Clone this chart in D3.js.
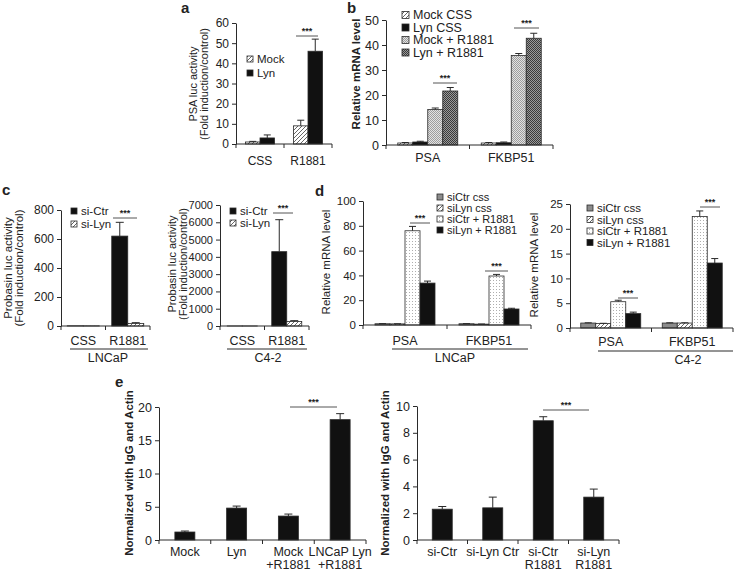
<!DOCTYPE html>
<html><head><meta charset="utf-8">
<script src="https://cdn.jsdelivr.net/npm/d3@7"></script>
<style>
body{margin:0;background:#fff}
text{font-family:"Liberation Sans",Arial,Helvetica,sans-serif;fill:#222}
</style>
</head><body>
<svg id="fig" width="736" height="572"></svg>
<script>
// ---------------- DATA ----------------
// Panel a
const aCategories = ["CSS", "R1881"];
const aSeries = ["Mock", "Lyn"];
const aValues = [[1.0, 9.0], [3.0, 46.0]];
const aErrors = [[0.3, 2.8], [1.5, 6.0]];
const aTicks = [0, 10, 20, 30, 40, 50, 60];

// Panel b
const bCategories = ["PSA", "FKBP51"];
const bSeries = ["Mock CSS", "Lyn CSS", "Mock + R1881", "Lyn + R1881"];
const bValues = [[0.8, 0.8], [1.2, 0.9], [14.2, 35.8], [21.6, 42.7]];
const bErrors = [[0.2, 0.2], [0.3, 0.3], [0.6, 0.8], [1.4, 2.0]];
const bTicks = [0, 10, 20, 30, 40, 50];

// Panel c (LNCaP and C4-2)
const cCategories = ["CSS", "R1881"];
const cSeries = ["si-Ctr", "si-Lyn"];
const cLeftValues = [[1, 620], [1, 18]];
const cLeftErrors = [[0, 95], [0, 5]];
const cLeftTicks = [0, 200, 400, 600, 800];
const cRightValues = [[1, 4300], [1, 260]];
const cRightErrors = [[0, 1850], [0, 50]];
const cRightTicks = [0, 1000, 2000, 3000, 4000, 5000, 6000, 7000];

// Panel d (LNCaP and C4-2)
const dCategories = ["PSA", "FKBP51"];
const dSeries = ["siCtr css", "siLyn css", "siCtr + R1881", "siLyn + R1881"];
const dLeftValues = [[1.0, 1.0], [0.9, 0.7], [76.0, 39.5], [33.8, 12.9]];
const dLeftErrors = [[0.1, 0.1], [0.1, 0.1], [3.5, 1.3], [1.6, 0.6]];
const dLeftTicks = [0, 20, 40, 60, 80, 100];
const dRightValues = [[1.0, 1.0], [0.9, 1.0], [5.3, 22.5], [2.9, 13.1]];
const dRightErrors = [[0.05, 0.05], [0.05, 0.05], [0.3, 1.1], [0.3, 0.9]];
const dRightTicks = [0, 5, 10, 15, 20, 25];

// Panel e
const eLeftCategories = ["Mock", "Lyn", "Mock\n+R1881", "LNCaP Lyn\n+R1881"];
const eLeftValues = [1.2, 4.8, 3.6, 18.1];
const eLeftErrors = [0.15, 0.3, 0.3, 0.9];
const eLeftTicks = [0, 5, 10, 15, 20];
const eRightCategories = ["si-Ctr", "si-Lyn Ctr", "si-Ctr\nR1881", "si-Lyn\nR1881"];
const eRightValues = [2.3, 2.4, 8.9, 3.2];
const eRightErrors = [0.2, 0.8, 0.3, 0.6];
const eRightTicks = [0, 2, 4, 6, 8, 10];

// ---------------- DRAWING ----------------
const svg = d3.select("#fig");
const defs = svg.append("defs");

function pat(id, w, h, bg, draw) {
  const p = defs.append("pattern").attr("id", id).attr("patternUnits", "userSpaceOnUse")
    .attr("width", w).attr("height", h);
  p.append("rect").attr("width", w).attr("height", h).attr("fill", bg);
  draw(p);
}
pat("hatch", 4, 4, "#fff", p => {
  p.append("path").attr("d", "M-1,5 L5,-1 M-1,1 L1,-1 M3,5 L5,3").attr("stroke", "#555").attr("stroke-width", 0.9);
});
pat("dots", 3, 3, "#fff", p => {
  p.append("rect").attr("x", 1).attr("y", 1).attr("width", 0.9).attr("height", 0.9).attr("fill", "#9a9a9a");
});
pat("checkLight", 2, 2, "#e2e2e2", p => {
  p.append("rect").attr("width", 1).attr("height", 1).attr("fill", "#9d9d9d");
  p.append("rect").attr("x", 1).attr("y", 1).attr("width", 1).attr("height", 1).attr("fill", "#9d9d9d");
});
pat("checkDark", 2, 2, "#9a9a9a", p => {
  p.append("rect").attr("width", 1).attr("height", 1).attr("fill", "#3a3a3a");
  p.append("rect").attr("x", 1).attr("y", 1).attr("width", 1).attr("height", 1).attr("fill", "#3a3a3a");
});

const INK = "#2a2a2a";

function yAxis(g, y, ticks, x0, fs) {
  const ax = g.append("g").attr("transform", `translate(${x0},0)`)
    .call(d3.axisLeft(y).tickValues(ticks).tickFormat(d3.format("d")).tickSize(4).tickPadding(3).tickSizeOuter(0));
  ax.select(".domain").attr("stroke", INK);
  ax.selectAll(".tick line").attr("stroke", INK);
  ax.selectAll("text").attr("font-size", fs).attr("fill", "#222")
    .style("font-family", '"Liberation Sans",Arial,sans-serif');
}

function xBase(g, x, y0) {
  const x0 = x.range()[0], x1 = x.range()[1];
  g.append("line").attr("x1", x0).attr("x2", x1).attr("y1", y0).attr("y2", y0).attr("stroke", INK);
  const bounds = x.domain().map(c => x(c)).concat([x1]);
  g.selectAll(null).data(bounds).enter().append("line")
    .attr("x1", d => d).attr("x2", d => d).attr("y1", y0).attr("y2", y0 + 4).attr("stroke", INK);
}

function catLabels(g, x, cats, yPos, fs) {
  cats.forEach(c => {
    const lines = c.split("\n");
    const t = g.append("text").attr("text-anchor", "middle").attr("font-size", fs);
    lines.forEach((ln, i) => {
      t.append("tspan").attr("x", x(c) + x.bandwidth() / 2).attr("y", yPos + i * 13).text(ln);
    });
  });
}

function yTitle(g, lines, cx, cy, fs, bold) {
  lines.forEach((ln, i) => {
    g.append("text").attr("transform", `translate(${cx[i]},${cy}) rotate(-90)`)
      .attr("text-anchor", "middle").attr("dominant-baseline", "central")
      .attr("font-size", fs).attr("font-weight", bold ? "bold" : "normal").text(ln);
  });
}

function errBar(g, cx, y, v, e, cap) {
  if (!e) return;
  g.append("line").attr("x1", cx).attr("x2", cx).attr("y1", y(v)).attr("y2", y(v + e)).attr("stroke", INK).attr("stroke-width", 1);
  g.append("line").attr("x1", cx - cap).attr("x2", cx + cap).attr("y1", y(v + e)).attr("y2", y(v + e)).attr("stroke", INK).attr("stroke-width", 1);
}

function sig(g, xa, xb, yl, fs) {
  g.append("line").attr("x1", xa).attr("x2", xb).attr("y1", yl).attr("y2", yl).attr("stroke", "#555").attr("stroke-width", 1);
  g.append("text").attr("x", (xa + xb) / 2).attr("y", yl - 2).attr("text-anchor", "middle")
    .attr("font-size", fs).attr("font-weight", "bold").text("***");
}

function legend(g, series, fills, x, ys, fs, sq) {
  series.forEach((s, i) => {
    g.append("rect").attr("x", x).attr("y", ys[i] - sq / 2).attr("width", sq).attr("height", sq)
      .attr("fill", fills[i]).attr("stroke", INK).attr("stroke-width", 0.8);
    g.append("text").attr("x", x + sq + 4).attr("y", ys[i]).attr("dominant-baseline", "central")
      .attr("font-size", fs).text(s);
  });
}

function grouped(o) {
  const g = svg.append("g");
  const y = d3.scaleLinear().domain([0, d3.max(o.ticks)]).range([o.yBot, o.yTop]);
  const x = d3.scaleBand().domain(o.cats).range([o.x0, o.x1]).padding(0);
  const n = o.series.length;
  const po = (x.bandwidth() / o.bw - n) / 2;
  const xi = d3.scaleBand().domain(d3.range(n)).range([0, x.bandwidth()]).paddingInner(0).paddingOuter(po);
  o.series.forEach((s, si) => {
    o.cats.forEach((c, ci) => {
      const v = o.values[si][ci];
      const bx = x(c) + xi(si);
      g.append("rect").attr("x", bx).attr("y", y(v)).attr("width", xi.bandwidth())
        .attr("height", Math.max(0, y(0) - y(v))).attr("fill", o.fills[si])
        .attr("stroke", INK).attr("stroke-width", 0.8);
      errBar(g, bx + xi.bandwidth() / 2, y, v, o.errors[si][ci], o.cap || 3.5);
    });
  });
  yAxis(g, y, o.ticks, o.x0, o.tickFs);
  xBase(g, x, o.yBot);
  catLabels(g, x, o.cats, o.catY, o.catFs);
  return { g, x, y };
}

// ---- Panel a ----
svg.append("text").attr("x", 181).attr("y", 13).attr("font-size", 15).attr("font-weight", "bold").text("a");
const pa = grouped({ x0: 236, x1: 332, yTop: 23, yBot: 144, ticks: aTicks, cats: aCategories, series: aSeries,
  values: aValues, errors: aErrors, fills: ["url(#hatch)", "#111"], bw: 14.5, tickFs: 12, catY: 165, catFs: 12 });
yTitle(pa.g, ["PSA luc activity", "(Fold induction/control)"], [193, 204], 84, 11, false);
legend(pa.g, aSeries, ["url(#hatch)", "#111"], 247, [59, 73], 11.5, 6);
sig(pa.g, 296, 318, 36, 9);

// ---- Panel b ----
svg.append("text").attr("x", 347).attr("y", 13).attr("font-size", 15).attr("font-weight", "bold").text("b");
const bFills = ["url(#hatch)", "#111", "url(#checkLight)", "url(#checkDark)"];
const pb = grouped({ x0: 386, x1: 553, yTop: 20, yBot: 145, ticks: bTicks, cats: bCategories, series: bSeries,
  values: bValues, errors: bErrors, fills: bFills, bw: 15, tickFs: 12.5, catY: 162, catFs: 12.5 });
yTitle(pb.g, ["Relative mRNA level"], [356], 74, 11.5, true);
legend(pb.g, bSeries, bFills, 402, [15, 27.5, 40, 52.5], 12.5, 7);
sig(pb.g, 433, 457, 83, 9);
sig(pb.g, 514, 539, 28, 9);

// ---- Panel c ----
svg.append("text").attr("x", 2).attr("y", 195).attr("font-size", 15).attr("font-weight", "bold").text("c");
const cFills = ["#111", "url(#hatch)"];
const pcl = grouped({ x0: 61, x1: 150, yTop: 210, yBot: 326, ticks: cLeftTicks, cats: cCategories, series: cSeries,
  values: cLeftValues, errors: cLeftErrors, fills: cFills, bw: 16, tickFs: 12, catY: 345, catFs: 12.5, cap: 4 });
yTitle(pcl.g, ["Probasin luc activity", "(Fold induction/control)"], [8, 19], 268, 11.5, false);
legend(pcl.g, cSeries, cFills, 71, [211, 224], 11.5, 6);
sig(pcl.g, 113, 137, 218, 9);
pcl.g.append("line").attr("x1", 70).attr("x2", 148).attr("y1", 349).attr("y2", 349).attr("stroke", INK);
pcl.g.append("text").attr("x", 108).attr("y", 362).attr("text-anchor", "middle").attr("font-size", 12.5).text("LNCaP");

const pcr = grouped({ x0: 220, x1: 309, yTop: 205, yBot: 326, ticks: cRightTicks, cats: cCategories, series: cSeries,
  values: cRightValues, errors: cRightErrors, fills: cFills, bw: 15, tickFs: 11, catY: 345, catFs: 12.5, cap: 4 });
yTitle(pcr.g, ["Probasin luc activity", "(Fold induction/control)"], [172, 183], 264, 11, false);
legend(pcr.g, cSeries, cFills, 230, [211, 223], 11.5, 6);
sig(pcr.g, 273, 293, 213, 9);
pcr.g.append("line").attr("x1", 227).attr("x2", 307).attr("y1", 349).attr("y2", 349).attr("stroke", INK);
pcr.g.append("text").attr("x", 268).attr("y", 362).attr("text-anchor", "middle").attr("font-size", 12.5).text("C4-2");

// ---- Panel d ----
svg.append("text").attr("x", 315).attr("y", 196).attr("font-size", 15).attr("font-weight", "bold").text("d");
const dFills = ["#8c8c8c", "url(#hatch)", "url(#dots)", "#111"];
const pdl = grouped({ x0: 363, x1: 531, yTop: 201, yBot: 325, ticks: dLeftTicks, cats: dCategories, series: dSeries,
  values: dLeftValues, errors: dLeftErrors, fills: dFills, bw: 15, tickFs: 11.5, catY: 345, catFs: 12.5 });
yTitle(pdl.g, ["Relative mRNA level"], [326], 262, 11.5, false);
legend(pdl.g, dSeries, dFills, 437, [197, 208, 219, 230], 11, 6);
sig(pdl.g, 410, 430, 223, 9);
sig(pdl.g, 485, 508, 271, 9);
pdl.g.append("line").attr("x1", 392).attr("x2", 528).attr("y1", 349).attr("y2", 349).attr("stroke", INK);
pdl.g.append("text").attr("x", 455).attr("y", 362).attr("text-anchor", "middle").attr("font-size", 12.5).text("LNCaP");

const pdr = grouped({ x0: 570, x1: 733, yTop: 204, yBot: 328, ticks: dRightTicks, cats: dCategories, series: dSeries,
  values: dRightValues, errors: dRightErrors, fills: dFills, bw: 15, tickFs: 11.5, catY: 346, catFs: 12.5 });
yTitle(pdr.g, ["Relative mRNA level"], [534], 265, 11.5, false);
legend(pdr.g, dSeries, dFills, 587, [208, 219.5, 231, 242.5], 11.5, 6);
sig(pdr.g, 618, 638, 298, 9);
sig(pdr.g, 700, 720, 207, 9);
pdr.g.append("line").attr("x1", 598).attr("x2", 733).attr("y1", 351).attr("y2", 351).attr("stroke", INK);
pdr.g.append("text").attr("x", 688).attr("y", 364).attr("text-anchor", "middle").attr("font-size", 12.5).text("C4-2");

// ---- Panel e ----
svg.append("text").attr("x", 115).attr("y", 387).attr("font-size", 15).attr("font-weight", "bold").text("e");
const pel = grouped({ x0: 159, x1: 366, yTop: 407, yBot: 540, ticks: eLeftTicks, cats: eLeftCategories, series: ["v"],
  values: [eLeftValues], errors: [eLeftErrors], fills: ["#111"], bw: 20, tickFs: 12.5, catY: 556, catFs: 12.5, cap: 4 });
yTitle(pel.g, ["Normalized with IgG and Actin"], [129], 473, 11.5, true);
sig(pel.g, 290, 337, 407, 9);

const per = grouped({ x0: 417, x1: 619, yTop: 406, yBot: 540, ticks: eRightTicks, cats: eRightCategories, series: ["v"],
  values: [eRightValues], errors: [eRightErrors], fills: ["#111"], bw: 20, tickFs: 12.5, catY: 556, catFs: 12.5, cap: 4 });
yTitle(per.g, ["Normalized with IgG and Actin"], [385], 473, 11.5, true);
sig(per.g, 543, 589, 410, 9);
</script>
</body></html>
